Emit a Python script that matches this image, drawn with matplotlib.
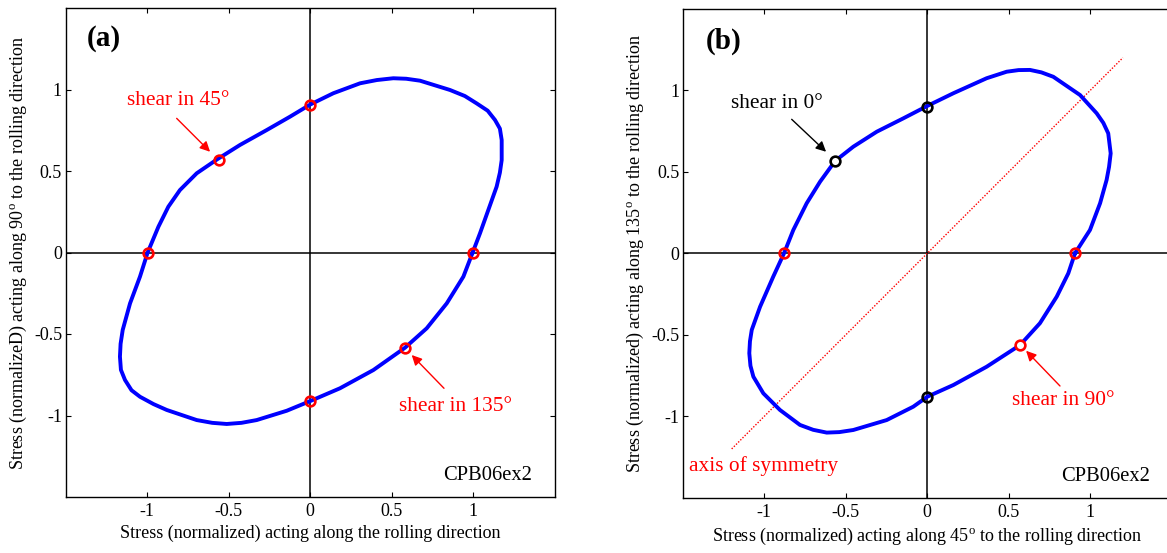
"""屈服面对比图

两个子图：(a) 轧制方向坐标系, (b) 45°/135° 坐标系
"""

import matplotlib.pyplot as plt

# ---- 数据 ----
# (a) 沿轧制方向 / 90° 方向的归一化应力
locus_a_x = [0.998, 1.043, 1.094, 1.145, 1.165, 1.176, 1.176, 1.165, 1.135, 1.09,
             1.022, 0.95, 0.859, 0.675, 0.59, 0.511, 0.41, 0.307, 0.143, 0.0,
             -0.123, -0.266, -0.429, -0.569, -0.695, -0.798, -0.869, -0.93, -0.996, -1.043,
             -1.104, -1.149, -1.162, -1.166, -1.16, -1.135, -1.095, -1.043, -0.96, -0.879,
             -0.695, -0.6, -0.511, -0.42, -0.327, -0.143, 0.0, 0.184, 0.389, 0.583,
             0.716, 0.839, 0.941, 0.998]
locus_a_y = [0.0, 0.118, 0.261, 0.404, 0.49, 0.567, 0.69, 0.76, 0.813, 0.87,
             0.915, 0.96, 0.997, 1.054, 1.066, 1.069, 1.058, 1.038, 0.977, 0.907,
             0.833, 0.751, 0.66, 0.572, 0.486, 0.383, 0.281, 0.158, 0.0, -0.148,
             -0.312, -0.475, -0.56, -0.639, -0.72, -0.782, -0.845, -0.885, -0.93, -0.966,
             -1.028, -1.045, -1.052, -1.045, -1.028, -0.971, -0.912, -0.833, -0.721, -0.584,
             -0.465, -0.312, -0.148, 0.0]
points_a_x = [0.0, -0.56, -0.995, 0.0, 0.58, 1.0]
points_a_y = [0.905, 0.565, 0.0, -0.91, -0.585, 0.0]

# (b) 沿 45° / 135° 方向的归一化应力
locus_b_x = [0.906, 0.998, 1.06, 1.1, 1.115, 1.125, 1.11, 1.08, 1.039, 0.937,
             0.773, 0.70, 0.63, 0.56, 0.487, 0.364, 0.16, 0.0, -0.147, -0.31,
             -0.454, -0.566, -0.658, -0.74, -0.822, -0.879, -0.945, -1.026, -1.077, -1.088,
             -1.092, -1.085, -1.067, -1.006, -0.904, -0.781, -0.70, -0.617, -0.54, -0.454,
             -0.249, -0.086, 0.0, 0.16, 0.364, 0.569, 0.691, 0.794, 0.865, 0.906]
locus_b_y = [0.0, 0.143, 0.307, 0.45, 0.53, 0.613, 0.736, 0.80, 0.859, 0.971,
             1.083, 1.11, 1.125, 1.124, 1.114, 1.074, 0.982, 0.904, 0.828, 0.746,
             0.654, 0.566, 0.439, 0.307, 0.143, 0.0, -0.143, -0.328, -0.47, -0.54,
             -0.613, -0.69, -0.757, -0.859, -0.961, -1.053, -1.083, -1.1, -1.097, -1.084,
             -1.023, -0.941, -0.88, -0.808, -0.696, -0.563, -0.429, -0.266, -0.123, 0.0]
black_b_x = [0.0, 0.0, -0.566]
black_b_y = [0.9, -0.88, 0.566]
red_b_x = [-0.88, 0.905, 0.566]
red_b_y = [0.0, 0.0, -0.563]
sym_x = [-1.2, 1.2]
sym_y = [-1.2, 1.2]

ticks = [-1, -0.5, 0, 0.5, 1]
tick_labels = ["-1", "-0.5", "0", "0.5", "1"]

plt.rcParams["font.family"] = ["Liberation Serif", "DejaVu Serif"]
plt.rcParams["mathtext.fontset"] = "custom"
plt.rcParams["mathtext.rm"] = "Liberation Serif"

W, H = 1167, 553
fig = plt.figure(figsize=(W / 100, H / 100), dpi=100)
fig.patch.set_facecolor("white")


def make_axes(left_px, bottom_px, size_px=489):
    """按像素位置创建坐标轴"""
    ax = fig.add_axes([left_px / W, 1 - bottom_px / H, size_px / W, size_px / H])
    ax.set_xlim(-1.5, 1.5)
    ax.set_ylim(-1.5, 1.5)
    ax.set_xticks(ticks)
    ax.set_xticklabels(tick_labels)
    ax.set_yticks(ticks)
    ax.set_yticklabels(tick_labels)
    ax.tick_params(direction="in", top=True, right=True, length=3.5, width=0.8,
                   labelsize=13)
    ax.tick_params(axis="x", pad=4.5)
    ax.tick_params(axis="y", pad=2.5)
    for s in ax.spines.values():
        s.set_linewidth(1.0)
    ax.axhline(0, color="black", lw=1.1, zorder=1)
    ax.axvline(0, color="black", lw=1.1, zorder=1)
    return ax


def arrow(ax, tail, tip, color):
    ax.annotate("", xy=tip, xytext=tail,
                arrowprops=dict(arrowstyle="-|>", color=color, lw=1.0,
                                mutation_scale=15, shrinkA=0, shrinkB=0))


mk = dict(ms=7, mew=1.9, zorder=3)

# ---- (a) ----
ax = make_axes(65.5, 497)
ax.plot(locus_a_x, locus_a_y, color="blue", lw=2.8, zorder=2, solid_joinstyle="round")
ax.plot(points_a_x, points_a_y, "o", mfc="none", mec="red", **mk)
ax.text(-0.81, 0.93, "shear in 45°", color="red", fontsize=15.4, ha="center", va="center")
arrow(ax, (-0.818, 0.823), (-0.613, 0.618), "red")
ax.text(0.893, -0.945, "shear in 135°", color="red", fontsize=15.4, ha="center", va="center")
arrow(ax, (0.822, -0.833), (0.624, -0.629), "red")
ax.text(-1.37, 1.31, "(a)", fontsize=21, fontweight="bold", ha="left", va="center")
ax.text(1.36, -1.37, "CPB06ex2", fontsize=14.8, ha="right", va="center")
ax.set_xlabel("Stress (normalized) acting along the rolling direction", fontsize=13,
              labelpad=3.5)
ax.set_ylabel(r"Stress (normalizeD) acting along 90$^\mathrm{o}$ to the rolling direction",
              fontsize=13, labelpad=3.5)

# ---- (b) ----
ax = make_axes(682.8, 497.8)
ax.plot(sym_x, sym_y, color="red", lw=1.0, ls=(0, (1, 1.2)), zorder=1.5)
ax.plot(locus_b_x, locus_b_y, color="blue", lw=2.8, zorder=2, solid_joinstyle="round")
ax.plot(red_b_x[:2], red_b_y[:2], "o", mfc="none", mec="red", **mk)
ax.plot(red_b_x[2:], red_b_y[2:], "o", mfc="white", mec="red", **mk)
ax.plot(black_b_x[:2], black_b_y[:2], "o", mfc="none", mec="black", **mk)
ax.plot(black_b_x[2:], black_b_y[2:], "o", mfc="white", mec="black", **mk)
ax.text(-0.92, 0.92, "shear in 0°", color="black", fontsize=15.4, ha="center", va="center")
arrow(ax, (-0.832, 0.822), (-0.621, 0.623), "black")
ax.text(0.832, -0.903, "shear in 90°", color="red", fontsize=15.4, ha="center", va="center")
arrow(ax, (0.814, -0.814), (0.606, -0.598), "red")
ax.text(-1.46, -1.305, "axis of symmetry", color="red", fontsize=15.4, ha="left", va="center")
ax.text(-1.36, 1.30, "(b)", fontsize=21, fontweight="bold", ha="left", va="center")
ax.text(1.366, -1.37, "CPB06ex2", fontsize=14.8, ha="right", va="center")
ax.set_xlabel(r"Stress (normalized) acting along 45$^\mathrm{o}$ to the rolling direction",
              fontsize=13, labelpad=3.5)
ax.set_ylabel(r"Stress (normalized) acting along 135$^\mathrm{o}$ to the rolling direction",
              fontsize=13, labelpad=3.5)

fig.savefig("out.png", dpi=100, facecolor="white")
